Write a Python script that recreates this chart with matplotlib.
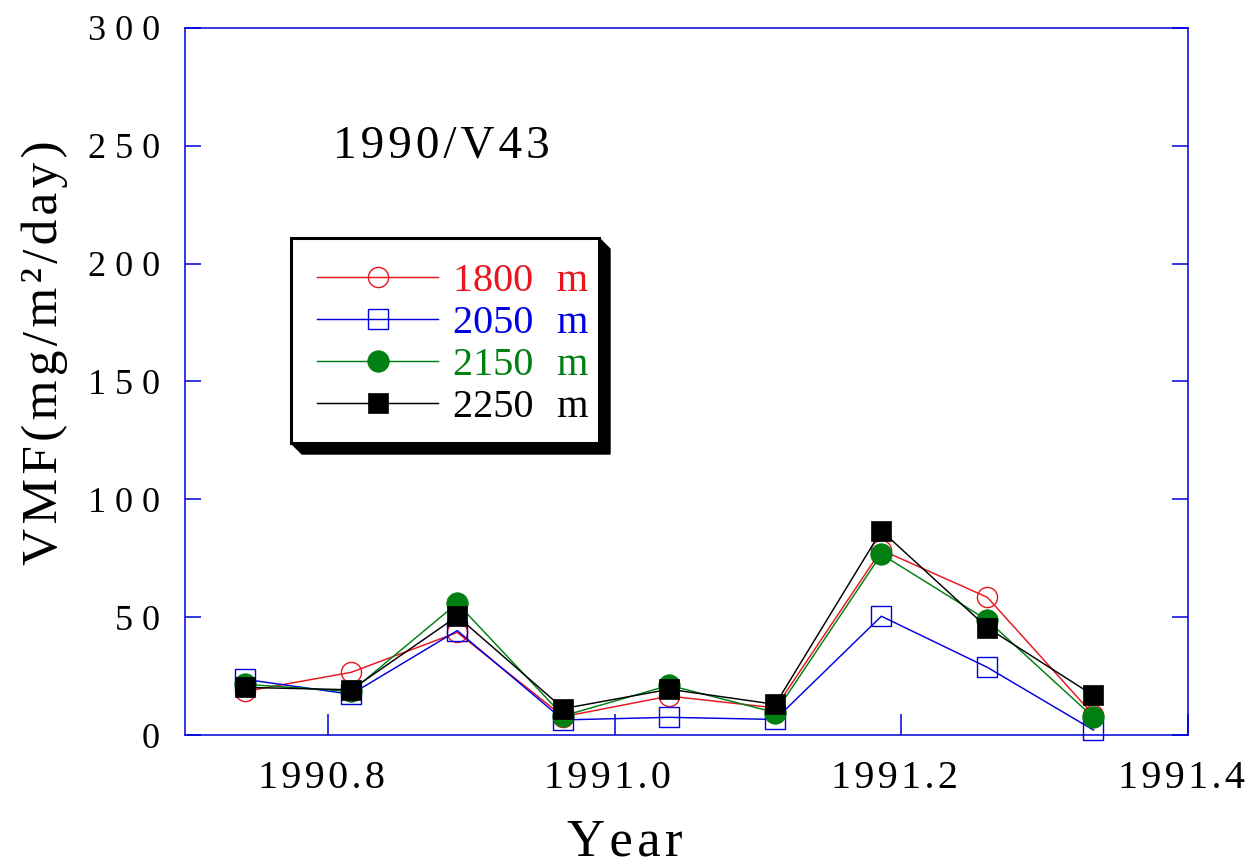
import matplotlib
matplotlib.use('Agg')
import matplotlib.pyplot as plt
import matplotlib.transforms as mtransforms
from matplotlib.ticker import FixedLocator, FuncFormatter
from matplotlib.patches import Polygon, Rectangle

# ---- data ----
years = [1990.742, 1990.816, 1990.890, 1990.964, 1991.038,
         1991.112, 1991.186, 1991.260, 1991.334]
vmf_1800 = [18.5, 26.6, 43.5, 7.8, 16.5, 11.5, 78.5, 58.4, 8.5]
vmf_2050 = [23.6, 17.3, 44.3, 6.4, 7.5, 6.6, 50.4, 28.7, 2.1]
vmf_2150 = [21.5, 18.5, 55.9, 8.1, 21.1, 9.5, 76.7, 48.7, 7.5]
vmf_2250 = [20.2, 19.2, 50.4, 11.2, 19.4, 13.0, 86.7, 45.5, 16.8]
depths = ['1800', '2050', '2150', '2250']
x_ticks = [1990.8, 1991.0, 1991.2, 1991.4]
x_tick_labels = ['1990.8', '1991.0', '1991.2', '1991.4']
y_ticks = [0, 50, 100, 150, 200, 250, 300]
title_text = '1990/V43'
x_label = 'Year'
y_label = 'VMF(mg/m²/day)'

HAIR = '\u200a'


def spaced(s, sep=HAIR):
    return sep.join(s)


plt.rcParams['font.family'] = ['Liberation Serif', 'DejaVu Serif']

W, H = 1249, 867
fig = plt.figure(figsize=(W / 100, H / 100), dpi=100)
ax = fig.add_axes([185 / W, 1 - 735 / H, (1188 - 185) / W, (735 - 28) / H])


def fx(px):
    return px / W


def fy(py):
    return 1 - py / H


AX_BLUE = '#0000dd'
styles = [
    dict(color='#e8141e', marker='o', mfc='none', mec='#e8141e', ms=14.5, mew=1.0),
    dict(color='#0000e0', marker='s', mfc='none', mec='#0000e0', ms=14.5, mew=1.0),
    dict(color='#007f12', marker='o', mfc='#007f12', mec='#007f12', ms=15.5, mew=0.5),
    dict(color='black', marker='s', mfc='black', mec='black', ms=15, mew=0.5),
]
data = [vmf_1800, vmf_2050, vmf_2150, vmf_2250]
handles = []
for vals, st, d in zip(data, styles, depths):
    h, = ax.plot(years, vals, lw=1.05, label=d + '  ' + HAIR + 'm',
                 clip_on=False, **st)
    handles.append(h)

ax.set_xlim(1990.7, 1991.4)
ax.set_ylim(0, 300)

for s in ax.spines.values():
    s.set_color(AX_BLUE)
    s.set_linewidth(1.1)

ax.xaxis.set_major_locator(FixedLocator(x_ticks))
ax.set_xticklabels([spaced(t) for t in x_tick_labels])
ax.yaxis.set_major_locator(FixedLocator(y_ticks))
ax.yaxis.set_major_formatter(FuncFormatter(lambda v, p: ' '.join(str(int(round(v))))))

ax.tick_params(axis='x', direction='in', length=15, width=1.1, color=AX_BLUE,
               labelsize=29, pad=18, top=False, bottom=True, labelcolor='black')
ax.tick_params(axis='y', direction='in', length=11.5, width=1.1, color=AX_BLUE,
               labelsize=26, pad=18, left=True, right=True, labelcolor='black')

shift = mtransforms.ScaledTranslation(-7 / 100, 0, fig.dpi_scale_trans)
for lab in ax.get_xticklabels():
    lab.set_transform(lab.get_transform() + shift)

# title inside plot
fig.text(fx(333), fy(158), spaced(title_text), fontsize=34, ha='left', va='baseline')

# axis labels
fig.text(fx(625), fy(855), spaced(x_label), fontsize=38, ha='center', va='baseline')
fig.text(fx(45), fy(353), spaced(y_label), fontsize=37, rotation=90,
         ha='center', va='center')

# legend frame with 3-D style shadow
shadow = Polygon([(fx(599), fy(238)), (fx(610), fy(249)), (fx(610), fy(454)),
                  (fx(302), fy(454)), (fx(291), fy(443)), (fx(599), fy(443))],
                 closed=True, transform=fig.transFigure, facecolor='black',
                 edgecolor='black', zorder=2)
frame = Rectangle((fx(291), fy(443)), fx(599) - fx(291), fy(238) - fy(443),
                  transform=fig.transFigure, facecolor='white', edgecolor='black',
                  linewidth=2.2, zorder=3)
fig.add_artist(shadow)
fig.add_artist(frame)

leg = fig.legend(handles=handles, loc='upper left',
                 bbox_to_anchor=(fx(291), fy(237)), bbox_transform=fig.transFigure,
                 borderaxespad=0, fontsize=29, labelcolor='linecolor',
                 handlelength=3.0, handletextpad=0.375, labelspacing=0.12,
                 borderpad=0.65, frameon=False)
leg.set_zorder(5)

fig.savefig('out.png', dpi=100)
